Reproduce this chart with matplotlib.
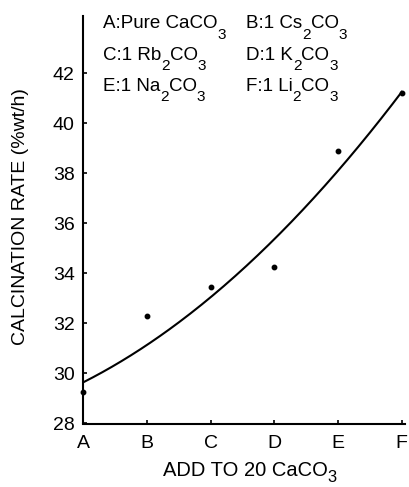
import numpy as np
import matplotlib
matplotlib.use("Agg")
import matplotlib.pyplot as plt

plt.rcParams['font.family'] = ['Liberation Sans', 'DejaVu Sans']

# ----------------------------
# Data
# ----------------------------
categories = ['A', 'B', 'C', 'D', 'E', 'F']
measured_rate = [29.25, 32.31, 33.47, 34.26, 38.88, 41.2]
# smooth fitted curve, read at each category
curve_rate = [29.64, 31.2, 32.94, 35.34, 38.26, 41.2]
y_ticks = [28, 30, 32, 34, 36, 38, 40, 42]

# legend text, split into (text, is_subscript) pieces
legend_rows = [
    ([('A:Pure CaCO', False), ('3', True)],
     [('B:1 Cs', False), ('2', True), ('CO', False), ('3', True)]),
    ([('C:1 Rb', False), ('2', True), ('CO', False), ('3', True)],
     [('D:1 K', False), ('2', True), ('CO', False), ('3', True)]),
    ([('E:1 Na', False), ('2', True), ('CO', False), ('3', True)],
     [('F:1 Li', False), ('2', True), ('CO', False), ('3', True)]),
]
xlabel_parts = [('ADD TO 20 CaCO', False), ('3', True)]

W, H = 410, 487
fig = plt.figure(figsize=(W / 100, H / 100), dpi=100)
renderer = fig.canvas.get_renderer()


def chem_text(x_px, y_px, parts, size, drop=0.55):
    # draw a formula piece by piece with large, low subscripts
    x = x_px
    for text, is_sub in parts:
        if is_sub:
            t = fig.text(x / W, 1 - (y_px + drop * size * 1.389) / H, text,
                         fontsize=size * 0.82, va='baseline')
            x = x + t.get_window_extent(renderer).width
        else:
            t = fig.text(x / W, 1 - y_px / H, text, fontsize=size,
                         va='baseline')
            x = x + t.get_window_extent(renderer).width
    return x


# ----------------------------
# Plot
# ----------------------------
ax = fig.add_axes([83 / W, (H - 423.5) / H, 322 / W, 407.5 / H])

x = np.arange(len(categories))
coef = np.polyfit(x, curve_rate, 2)
xs = np.linspace(0, len(categories) - 1, 200)
ax.plot(xs, np.polyval(coef, xs), color='black', linewidth=1.5)
ax.plot(x, measured_rate, 'o', color='black', markersize=3.2, clip_on=False)

ax.set_xlim(0, 5.05)
ax.set_ylim(28, 44.3)
ax.set_xticks(x)
ax.set_xticklabels(categories)
ax.set_yticks(y_ticks)

for side in ['top', 'right']:
    ax.spines[side].set_visible(False)
for side in ['left', 'bottom']:
    ax.spines[side].set_linewidth(1.5)

ax.tick_params(axis='both', direction='in', length=3, width=1.2,
               labelsize=14)
ax.tick_params(axis='x', pad=8)
ax.tick_params(axis='y', pad=6)

fig.text(21 / W, 1 - 217 / H, 'CALCINATION RATE (%wt/h)', fontsize=14,
         rotation=90, ha='center', va='center')
chem_text(163, 476, xlabel_parts, 14.5, drop=0.3)

for i, (left, right) in enumerate(legend_rows):
    yb = 28.3 + i * 31.3
    chem_text(103, yb, left, 13.5)
    chem_text(246, yb, right, 13.5)

fig.savefig('out.png', dpi=100)
